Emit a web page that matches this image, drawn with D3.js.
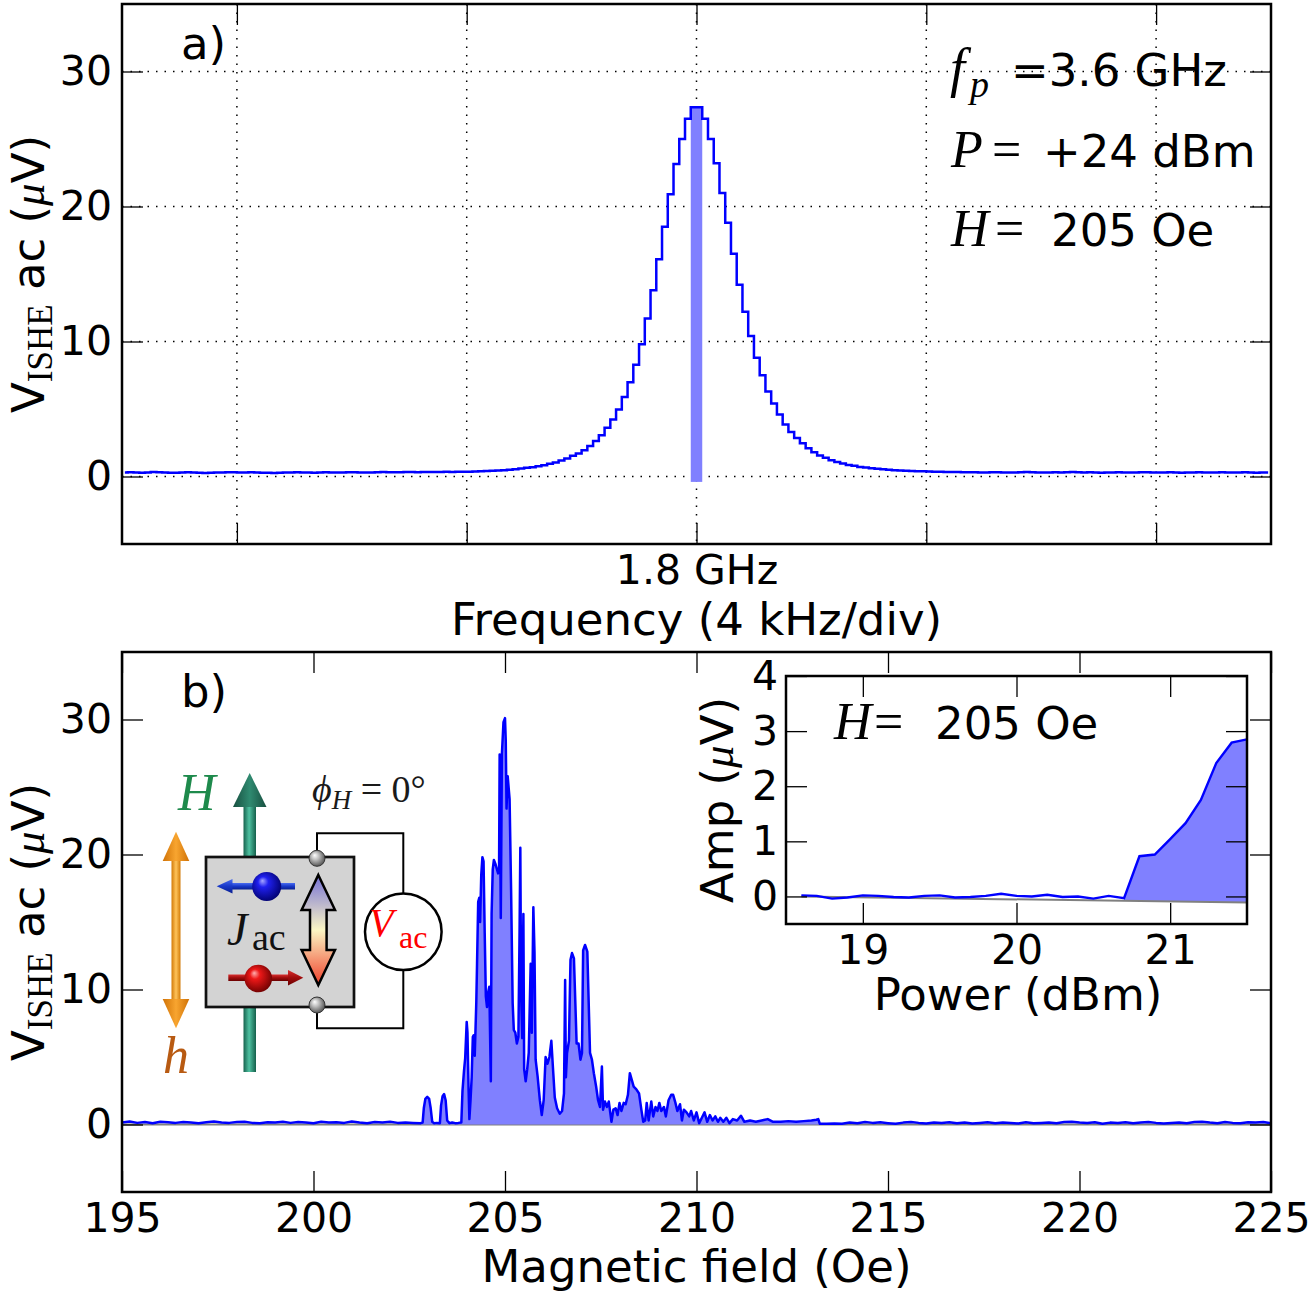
<!DOCTYPE html>
<html>
<head>
<meta charset="utf-8">
<script src="https://cdn.jsdelivr.net/npm/d3@7"></script>
<style>
body { margin: 0; background: #fff; }
svg { display: block; }
</style>
</head>
<body>
<div id="chart"></div>
<script>
// ---- data ----

// panel a: spectrum analyser trace, 200 bins of 0.025 div (4 kHz/div), from -2.5 to +2.5 div
var topVals = [
    0.30, 0.32, 0.30, 0.28, 0.30, 0.33, 0.31, 0.30, 0.28, 0.27,
    0.29, 0.31, 0.30, 0.28, 0.26, 0.27, 0.29, 0.30, 0.32, 0.31,
    0.30, 0.29, 0.31, 0.30, 0.28, 0.27, 0.26, 0.27, 0.29, 0.30,
    0.31, 0.30, 0.29, 0.28, 0.29, 0.31, 0.30, 0.29, 0.30, 0.32,
    0.31, 0.30, 0.29, 0.30, 0.31, 0.33, 0.32, 0.31, 0.32, 0.34,
    0.33, 0.32, 0.33, 0.34, 0.33, 0.34, 0.35, 0.34, 0.35, 0.36,
    0.36, 0.37, 0.39, 0.40, 0.42, 0.44, 0.47, 0.50, 0.54, 0.59,
    0.64, 0.69, 0.76, 0.84, 0.94, 1.03, 1.18, 1.33, 1.53, 1.70,
    1.94, 2.26, 2.63, 3.05, 3.62, 4.23, 4.97, 5.88, 6.99, 8.27,
    9.8, 11.7, 13.8, 16.1, 18.5, 20.9, 23.15, 25.0, 26.5, 27.36,
    27.36, 26.5, 25.0, 23.2, 21.0, 18.8, 16.5, 14.2, 12.2, 10.4,
    8.8, 7.5, 6.3, 5.4, 4.6, 3.85, 3.3, 2.85, 2.46, 2.1,
    1.8, 1.56, 1.38, 1.2, 1.08, 0.96, 0.86, 0.79, 0.71, 0.66,
    0.61, 0.57, 0.53, 0.50, 0.47, 0.45, 0.43, 0.41, 0.39, 0.38,
    0.37, 0.36, 0.35, 0.34, 0.33, 0.33, 0.32, 0.31, 0.31, 0.30,
    0.30, 0.31, 0.32, 0.30, 0.29, 0.30, 0.31, 0.33, 0.32, 0.30,
    0.29, 0.30, 0.31, 0.30, 0.32, 0.34, 0.32, 0.30, 0.31, 0.30,
    0.28, 0.29, 0.30, 0.31, 0.30, 0.29, 0.30, 0.32, 0.31, 0.30,
    0.29, 0.30, 0.31, 0.30, 0.28, 0.29, 0.30, 0.31, 0.30, 0.29,
    0.30, 0.31, 0.30, 0.29, 0.30, 0.31, 0.30, 0.28, 0.29, 0.30
];
var topBandX = [-0.025, 0.025];
var topBandY = [-0.4, 27.4];
var topTicks = [-2, -1, 0, 1, 2];
var topTickLabel = "1.8 GHz";

// panel b: coarse scan outside the active window (0.2 Oe steps)
var bLeftStart = 195.0;
var bLeftVals = [
    0.15, 0.22, 0.12, 0.18, 0.10, 0.20, 0.16, 0.12, 0.18, 0.14,
    0.10, 0.16, 0.22, 0.14, 0.12, 0.18, 0.20, 0.12, 0.10, 0.16,
    0.14, 0.20, 0.12, 0.18, 0.15, 0.10, 0.20, 0.14, 0.16, 0.12,
    0.22, 0.15, 0.10, 0.18, 0.14, 0.20, 0.12, 0.15, 0.12, 0.10
];
var bRightStart = 213.4;
var bRightVals = [
    0.05, 0.08, 0.06, 0.15, 0.10, 0.18, 0.12, 0.16, 0.10, 0.05,
    0.14, 0.18, 0.12, 0.08, 0.15, 0.12, 0.17, 0.10, 0.15, 0.08,
    0.12, 0.16, 0.10, 0.14, 0.12, 0.08, 0.16, 0.10, 0.12, 0.14,
    0.10, 0.18, 0.20, 0.15, 0.12, 0.16, 0.05, 0.14, 0.12, 0.16,
    0.10, 0.14, 0.18, 0.12, 0.08, 0.12, 0.14, 0.10, 0.18, 0.20,
    0.14, 0.10, 0.18, 0.12, 0.10, 0.16, 0.14, 0.18, 0.10
];

// panel b: fine scan of the active window (field in Oe, signal in uV)
var bField = [
    202.80, 202.85, 202.88, 202.92, 202.97, 203.02, 203.06, 203.10, 203.15, 203.22,
    203.30, 203.33, 203.37, 203.41, 203.45, 203.49, 203.55, 203.62, 203.70, 203.78,
    203.86, 203.89, 203.93, 203.96, 204.00, 204.02, 204.05, 204.07, 204.10, 204.13,
    204.16, 204.18, 204.21, 204.25, 204.27, 204.30, 204.33, 204.35, 204.38, 204.41,
    204.44, 204.47, 204.50, 204.53, 204.56, 204.59, 204.63, 204.65, 204.68, 204.71,
    204.75, 204.78, 204.82, 204.845, 204.86, 204.89, 204.92, 204.96, 205.00, 205.02,
    205.04, 205.07, 205.12, 205.16, 205.20, 205.23, 205.27, 205.31, 205.35, 205.38,
    205.40, 205.42, 205.45, 205.48, 205.50, 205.54, 205.58, 205.62, 205.67, 205.70,
    205.74, 205.77, 205.80, 205.85, 205.91, 205.96, 206.01, 206.06, 206.11, 206.16,
    206.21, 206.25, 206.30, 206.36, 206.43, 206.49, 206.54, 206.57, 206.59, 206.62,
    206.67, 206.71, 206.75, 206.80, 206.87, 206.92, 206.97, 207.01, 207.04, 207.09,
    207.15, 207.22, 207.27, 207.32, 207.38, 207.43, 207.48, 207.53, 207.56, 207.61,
    207.66, 207.71, 207.78, 207.83, 207.89, 207.94, 207.99, 208.04, 208.10, 208.15,
    208.21, 208.26, 208.31, 208.36, 208.43, 208.50, 208.56, 208.61, 208.66, 208.70,
    208.75, 208.82, 208.87, 208.93, 208.98, 209.03, 209.08, 209.15, 209.20, 209.27,
    209.34, 209.39, 209.45, 209.50, 209.57, 209.62, 209.67, 209.74, 209.81, 209.86,
    209.93, 210.00, 210.07, 210.14, 210.21, 210.28, 210.35, 210.42, 210.49, 210.56,
    210.62, 210.70, 210.78, 210.86, 210.95, 211.06, 211.16, 211.25, 211.40, 211.55,
    211.70, 211.86, 212.00, 212.20, 212.40, 212.60, 212.80, 213.00, 213.13, 213.18,
    213.22
];
var bSignal = [
    0.10, 0.15, 1.2, 1.9, 2.05, 1.9, 1.2, 0.2, 0.1, 0.12,
    0.1, 1.4, 2.1, 2.25, 1.8, 0.3, 0.1, 0.15, 0.1, 0.12,
    0.15, 2.5, 4.0, 4.9, 7.6, 6.8, 2.5, 0.4, 1.8, 3.5,
    6.5, 6.6, 5.1, 9.0, 11.9, 16.5, 16.8, 15.0, 18.5, 19.8,
    19.5, 14.2, 9.5, 8.7, 9.8, 10.2, 3.2, 15.6, 18.9, 19.6,
    19.3, 19.0, 18.6, 18.8, 27.4, 15.3, 27.5, 29.8, 30.1, 28.4,
    23.4, 25.8, 24.1, 17.2, 9.0, 7.0, 6.8, 6.0, 6.5, 14.2,
    20.5, 9.7, 6.4, 15.6, 4.1, 3.2, 4.1, 5.3, 11.9, 6.8,
    16.1, 12.8, 4.8, 3.6, 1.8, 0.7, 1.8, 5.0, 4.5, 5.0,
    6.2, 4.3, 2.0, 1.2, 0.8, 1.0, 2.3, 10.7, 3.5, 5.3,
    6.2, 12.2, 12.7, 12.3, 6.0, 6.0, 4.8, 5.3, 12.9, 13.3,
    12.8, 5.3, 4.8, 3.8, 2.8, 1.8, 1.3, 4.3, 1.1, 1.7,
    1.3, 1.7, 0.2, 1.1, 1.2, 0.7, 1.6, 1.0, 1.6, 1.5,
    2.2, 3.8, 3.3, 2.8, 2.6, 2.3, 1.1, 0.2, 0.3, 1.6,
    0.3, 1.7, 0.6, 1.3, 1.0, 1.6, 1.0, 1.3, 0.6, 1.8,
    2.2, 2.2, 1.6, 1.0, 1.5, 0.3, 1.1, 0.9, 0.6, 1.0,
    0.3, 0.9, 0.1, 0.5, 0.9, 0.2, 0.7, 0.3, 0.6, 0.2,
    0.5, 0.2, 0.5, 0.1, 0.4, 0.3, 0.65, 0.2, 0.3, 0.2,
    0.3, 0.4, 0.2, 0.2, 0.25, 0.2, 0.25, 0.3, 0.35, 0.4,
    0.05
];
var bTicksX = [195, 200, 205, 210, 215, 220, 225];
var yTicksMain = [0, 10, 20, 30];

// inset: amplitude at H = 205 Oe vs power
var inPower = [18.6, 18.7, 18.8, 18.9, 19.0, 19.1, 19.2, 19.3, 19.4, 19.5,
               19.6, 19.7, 19.8, 19.9, 20.0, 20.1, 20.2, 20.3, 20.4, 20.5,
               20.6, 20.7, 20.8, 20.9, 21.0, 21.1, 21.2, 21.3, 21.4, 21.5];
var inAmp = [0.02, 0.01, -0.04, -0.02, 0.02, 0.01, -0.01, -0.02, 0.01, 0.02,
             -0.02, -0.01, 0.01, 0.05, 0.01, 0.0, 0.03, -0.01, 0.0, -0.04,
             0.01, -0.03, 0.73, 0.76, 1.04, 1.33, 1.75, 2.42, 2.79, 2.85];
var inBaseX = [18.6, 21.5];
var inBaseY = [0.0, -0.11];
var inTicksX = [19, 20, 21];
var inTicksY = [0, 1, 2, 3, 4];

// ---- layout ----
var svgWidth = 1312;
var svgHeight = 1294;
var blue = "#0000ff";
var fillBlue = "#8080ff";
var sans = "DejaVu Sans";
var serif = "Liberation Serif, DejaVu Serif";

var svg = d3.select("#chart").append("svg")
    .attr("width", svgWidth)
    .attr("height", svgHeight);
svg.append("rect").attr("width", svgWidth).attr("height", svgHeight).attr("fill", "#fff");

var defs = svg.append("defs");

var xTop = d3.scaleLinear().domain([-2.5, 2.5]).range([122, 1271]);
var yTop = d3.scaleLinear().domain([-5, 35]).range([544, 4]);
var xBot = d3.scaleLinear().domain([195, 225]).range([122, 1271]);
var yBot = d3.scaleLinear().domain([-5, 35]).range([1192, 652]);
var xIn = d3.scaleLinear().domain([18.5, 21.5]).range([786, 1247]);
var yIn = d3.scaleLinear().domain([-0.5, 4]).range([924, 676]);

function clipFor(id, x, y) {
    defs.append("clipPath").attr("id", id).append("rect")
        .attr("x", x.range()[0]).attr("y", y.range()[1])
        .attr("width", x.range()[1] - x.range()[0])
        .attr("height", y.range()[0] - y.range()[1]);
}
clipFor("clipTop", xTop, yTop);
clipFor("clipBot", xBot, yBot);
clipFor("clipIn", xIn, yIn);

// inward ticks on all four sides plus a frame
function drawAxes(x, y, xTicks, yTicks, xFmt, yFmt, pad) {
    var g = svg.append("g");
    g.append("g").attr("transform", `translate(0,${y.range()[0]})`)
        .call(d3.axisBottom(x).tickValues(xTicks).tickSize(-21).tickPadding(11).tickFormat(xFmt));
    g.append("g").attr("transform", `translate(0,${y.range()[1]})`)
        .call(d3.axisTop(x).tickValues(xTicks).tickSize(-21).tickFormat(""));
    g.append("g").attr("transform", `translate(${x.range()[0]},0)`)
        .call(d3.axisLeft(y).tickValues(yTicks).tickSize(-21).tickPadding(pad).tickFormat(yFmt));
    g.append("g").attr("transform", `translate(${x.range()[1]},0)`)
        .call(d3.axisRight(y).tickValues(yTicks).tickSize(-21).tickFormat(""));
    g.selectAll(".domain").remove();
    g.selectAll(".tick line").attr("stroke", "#000").attr("stroke-width", 1.3);
    g.selectAll(".tick text")
        .attr("font-family", sans)
        .attr("font-size", 41)
        .attr("fill", "#000");
    g.append("rect")
        .attr("x", x.range()[0]).attr("y", y.range()[1])
        .attr("width", x.range()[1] - x.range()[0])
        .attr("height", y.range()[0] - y.range()[1])
        .attr("fill", "none").attr("stroke", "#000").attr("stroke-width", 2.5);
    return g;
}

function yLabel(cx, cy) {
    var t = svg.append("text")
        .attr("transform", `translate(${cx},${cy}) rotate(-90)`)
        .attr("text-anchor", "middle")
        .attr("font-family", sans)
        .attr("font-size", 45);
    t.append("tspan").text("V");
    t.append("tspan").attr("font-family", serif).attr("font-size", 35).attr("dy", 8).text("ISHE");
    t.append("tspan").attr("dy", -8).text(" ac (");
    t.append("tspan").attr("font-family", serif).attr("font-style", "italic").text("μ");
    t.append("tspan").text("V)");
}

// ================= panel a =================
var gridG = svg.append("g")
    .attr("stroke", "#000").attr("stroke-width", 1.5).attr("stroke-dasharray", "1.5,7");
gridG.selectAll("line.gx").data(topTicks).enter().append("line")
    .attr("x1", d => xTop(d)).attr("x2", d => xTop(d))
    .attr("y1", yTop.range()[1]).attr("y2", yTop.range()[0]);
gridG.selectAll("line.gy").data(yTicksMain).enter().append("line")
    .attr("x1", xTop.range()[0]).attr("x2", xTop.range()[1])
    .attr("y1", d => yTop(d)).attr("y2", d => yTop(d));

var topData = topVals.map((v, i) => ({ x: -2.5 + 0.025 * (i + 0.5), y: v }));

var topG = svg.append("g").attr("clip-path", "url(#clipTop)");
topG.append("rect")
    .attr("x", xTop(topBandX[0]))
    .attr("width", xTop(topBandX[1]) - xTop(topBandX[0]))
    .attr("y", yTop(topBandY[1]))
    .attr("height", yTop(topBandY[0]) - yTop(topBandY[1]))
    .attr("fill", fillBlue);
topG.append("path")
    .datum(topData)
    .attr("fill", "none")
    .attr("stroke", blue)
    .attr("stroke-width", 2.5)
    .attr("d", d3.line().x(d => xTop(d.x)).y(d => yTop(d.y)).curve(d3.curveStep));

drawAxes(xTop, yTop, topTicks, yTicksMain, d => d === 0 ? topTickLabel : "", d3.format("d"), 10);

svg.append("text").attr("x", 181).attr("y", 59)
    .attr("font-family", sans).attr("font-size", 45).text("a)");

svg.append("text").attr("x", xTop(0)).attr("y", 635)
    .attr("text-anchor", "middle").attr("font-family", sans).attr("font-size", 45)
    .text("Frequency (4 kHz/div)");
yLabel(44, 274);

// parameter block
var ann = svg.append("g");
ann.append("text").attr("x", 950).attr("y", 86).attr("font-family", serif)
    .attr("font-style", "italic").attr("font-size", 54).text("f");
ann.append("text").attr("x", 970).attr("y", 97).attr("font-family", serif)
    .attr("font-style", "italic").attr("font-size", 38).text("p");
ann.append("text").attr("x", 1011).attr("y", 86).attr("font-family", sans)
    .attr("font-size", 45).text("=3.6 GHz");
ann.append("text").attr("x", 951).attr("y", 167).attr("font-family", serif)
    .attr("font-style", "italic").attr("font-size", 52).text("P");
ann.append("text").attr("x", 992).attr("y", 167).attr("font-family", serif)
    .attr("font-size", 52).text("=");
ann.append("text").attr("x", 1043).attr("y", 167).attr("font-family", sans)
    .attr("font-size", 45).text("+24 dBm");
ann.append("text").attr("x", 951).attr("y", 246).attr("font-family", serif)
    .attr("font-style", "italic").attr("font-size", 52).text("H");
ann.append("text").attr("x", 995).attr("y", 246).attr("font-family", serif)
    .attr("font-size", 52).text("=");
ann.append("text").attr("x", 1051).attr("y", 246).attr("font-family", sans)
    .attr("font-size", 45).text("205 Oe");

// ================= panel b =================
var leftData = bLeftVals.map((v, i) => ({ x: bLeftStart + 0.2 * i, y: v }));
var rightData = bRightVals.map((v, i) => ({ x: bRightStart + 0.2 * i, y: v }));
var fineData = bField.map((f, i) => ({ x: f, y: bSignal[i] }));

var botG = svg.append("g").attr("clip-path", "url(#clipBot)");
botG.append("line")
    .attr("x1", xBot(195)).attr("x2", xBot(225))
    .attr("y1", yBot(0)).attr("y2", yBot(0))
    .attr("stroke", "#808080").attr("stroke-width", 2.2);
botG.append("path")
    .datum(fineData)
    .attr("fill", fillBlue)
    .attr("d", d3.area().x(d => xBot(d.x)).y0(yBot(0)).y1(d => yBot(d.y)));

var bLine = d3.line().x(d => xBot(d.x)).y(d => yBot(d.y));
botG.append("path")
    .datum(leftData.concat(fineData, rightData))
    .attr("fill", "none")
    .attr("stroke", blue)
    .attr("stroke-width", 2.5)
    .attr("stroke-linejoin", "round")
    .attr("d", bLine);

drawAxes(xBot, yBot, bTicksX, yTicksMain, d3.format("d"), d3.format("d"), 10);

svg.append("text").attr("x", 181).attr("y", 707)
    .attr("font-family", sans).attr("font-size", 45).text("b)");
svg.append("text").attr("x", xBot(210)).attr("y", 1282)
    .attr("text-anchor", "middle").attr("font-family", sans).attr("font-size", 45)
    .text("Magnetic field (Oe)");
yLabel(44, 922);

// ================= inset =================
svg.append("rect")
    .attr("x", xIn.range()[0]).attr("y", yIn.range()[1])
    .attr("width", xIn.range()[1] - xIn.range()[0])
    .attr("height", yIn.range()[0] - yIn.range()[1])
    .attr("fill", "#fff");

var baseAt = d3.scaleLinear().domain(inBaseX).range(inBaseY);
var inData = inPower.map((p, i) => ({ x: p, y: inAmp[i] }));

var inG = svg.append("g").attr("clip-path", "url(#clipIn)");
inG.append("path")
    .datum(inData.filter(d => d.x >= 20.7))
    .attr("fill", fillBlue)
    .attr("d", d3.area().x(d => xIn(d.x)).y0(d => yIn(baseAt(d.x))).y1(d => yIn(d.y)));
inG.append("line")
    .attr("x1", xIn(inBaseX[0])).attr("x2", xIn(inBaseX[1]))
    .attr("y1", yIn(inBaseY[0])).attr("y2", yIn(inBaseY[1]))
    .attr("stroke", "#808080").attr("stroke-width", 2);
inG.append("path")
    .datum(inData)
    .attr("fill", "none")
    .attr("stroke", blue)
    .attr("stroke-width", 2.4)
    .attr("d", d3.line().x(d => xIn(d.x)).y(d => yIn(d.y)));

drawAxes(xIn, yIn, inTicksX, inTicksY, d3.format("d"), d3.format("d"), 8);

svg.append("text").attr("x", 1018).attr("y", 1010)
    .attr("text-anchor", "middle").attr("font-family", sans).attr("font-size", 45)
    .text("Power (dBm)");
var ampLab = svg.append("text")
    .attr("transform", "translate(733,800) rotate(-90)")
    .attr("text-anchor", "middle").attr("font-family", sans).attr("font-size", 45);
ampLab.append("tspan").text("Amp (");
ampLab.append("tspan").attr("font-family", serif).attr("font-style", "italic").text("μ");
ampLab.append("tspan").text("V)");

svg.append("text").attr("x", 834).attr("y", 739).attr("font-family", serif)
    .attr("font-style", "italic").attr("font-size", 52).text("H");
svg.append("text").attr("x", 874).attr("y", 739).attr("font-family", serif)
    .attr("font-size", 52).text("=");
svg.append("text").attr("x", 935).attr("y", 739).attr("font-family", sans)
    .attr("font-size", 45).text("205 Oe");

// ================= sketch of the device =================
function linGrad(id, horiz, stops) {
    var lg = defs.append("linearGradient").attr("id", id)
        .attr("x1", 0).attr("y1", 0).attr("x2", horiz ? 1 : 0).attr("y2", horiz ? 0 : 1);
    stops.forEach(s => lg.append("stop").attr("offset", s[0]).attr("stop-color", s[1]));
}
function radGrad(id, stops) {
    var rg = defs.append("radialGradient").attr("id", id)
        .attr("cx", "45%").attr("cy", "45%").attr("r", "60%").attr("fx", "35%").attr("fy", "30%");
    stops.forEach(s => rg.append("stop").attr("offset", s[0]).attr("stop-color", s[1]));
}
linGrad("gShaft", true, [["0%", "#17634e"], ["45%", "#4fc2a2"], ["100%", "#15604b"]]);
linGrad("gHead", true, [["0%", "#184f40"], ["50%", "#2f8a70"], ["100%", "#184f40"]]);
linGrad("oShaft", true, [["0%", "#d27a08"], ["50%", "#ffc35a"], ["100%", "#d27a08"]]);
linGrad("oHead", true, [["0%", "#d07206"], ["50%", "#f8a530"], ["100%", "#d07206"]]);
linGrad("bigGrad", false, [["0%", "#7470d6"], ["50%", "#fbf6c4"], ["100%", "#f0402a"]]);
linGrad("bArrow", false, [["0%", "#4a6cf0"], ["50%", "#1838c8"], ["100%", "#0a1f90"]]);
linGrad("rArrow", false, [["0%", "#d83030"], ["50%", "#a00c0c"], ["100%", "#6a0000"]]);
radGrad("bSphere", [["0%", "#a8a8ff"], ["30%", "#2020f0"], ["100%", "#00006a"]]);
radGrad("rSphere", [["0%", "#ffb0b0"], ["30%", "#ee1818"], ["100%", "#6a0000"]]);
radGrad("wSphere", [["0%", "#ffffff"], ["40%", "#bdbdbd"], ["100%", "#4a4a4a"]]);

var dg = svg.append("g");

// field H (green, behind the sample)
dg.append("rect").attr("x", 243.5).attr("y", 804).attr("width", 12.5).attr("height", 268)
    .attr("fill", "url(#gShaft)");
dg.append("path").attr("d", "M233,807 L266.5,807 L249.7,773 Z").attr("fill", "url(#gHead)");

// rf field h (orange, double headed)
dg.append("rect").attr("x", 171.5).attr("y", 858).attr("width", 9).attr("height", 144)
    .attr("fill", "url(#oShaft)");
dg.append("path").attr("d", "M162.7,861 L189.3,861 L176,831.7 Z").attr("fill", "url(#oHead)");
dg.append("path").attr("d", "M162.7,999 L189.3,999 L176,1028.3 Z").attr("fill", "url(#oHead)");

// wires to the voltmeter
dg.append("path").attr("d", "M317,850 V833.3 H403.3 V893.4")
    .attr("fill", "none").attr("stroke", "#000").attr("stroke-width", 2);
dg.append("path").attr("d", "M403.3,970 V1028.3 H317 V1013")
    .attr("fill", "none").attr("stroke", "#000").attr("stroke-width", 2);

// sample
dg.append("rect").attr("x", 206).attr("y", 857).attr("width", 148).attr("height", 150)
    .attr("fill", "#d3d3d3").attr("stroke", "#111").attr("stroke-width", 2.7);

// spin-up electron going left
dg.append("rect").attr("x", 230).attr("y", 883).attr("width", 65).attr("height", 6.5)
    .attr("fill", "url(#bArrow)");
dg.append("path").attr("d", "M232.5,879 L232.5,893.5 L216.7,886.2 Z").attr("fill", "url(#bArrow)");
dg.append("circle").attr("cx", 266.7).attr("cy", 886.5).attr("r", 14.5).attr("fill", "url(#bSphere)");

// spin-down electron going right
dg.append("rect").attr("x", 228.3).attr("y", 974.5).attr("width", 62).attr("height", 6.5)
    .attr("fill", "url(#rArrow)");
dg.append("path").attr("d", "M288,970 L288,985.5 L303.3,977.7 Z").attr("fill", "url(#rArrow)");
dg.append("circle").attr("cx", 258.3).attr("cy", 978.5).attr("r", 13.8).attr("fill", "url(#rSphere)");

// ac charge current arrow
dg.append("path")
    .attr("d", "M318.3,875 L335,910 L326.6,910 L326.6,950 L335,950 L318.3,985 L301.6,950 L310,950 L310,910 L301.6,910 Z")
    .attr("fill", "url(#bigGrad)").attr("stroke", "#000").attr("stroke-width", 2.5)
    .attr("stroke-linejoin", "miter");

// contacts
dg.append("circle").attr("cx", 317).attr("cy", 858.3).attr("r", 8)
    .attr("fill", "url(#wSphere)").attr("stroke", "#333").attr("stroke-width", 1);
dg.append("circle").attr("cx", 317).attr("cy", 1005).attr("r", 8)
    .attr("fill", "url(#wSphere)").attr("stroke", "#333").attr("stroke-width", 1);

// voltmeter
dg.append("circle").attr("cx", 403.3).attr("cy", 931.7).attr("r", 38.3)
    .attr("fill", "#fff").attr("stroke", "#000").attr("stroke-width", 2.5);
dg.append("text").attr("x", 369).attr("y", 936).attr("font-family", serif)
    .attr("font-style", "italic").attr("font-size", 40).attr("fill", "#ff0000").text("V");
dg.append("text").attr("x", 399).attr("y", 948).attr("font-family", serif)
    .attr("font-size", 32).attr("fill", "#ff0000").text("ac");

// labels of the sketch
dg.append("text").attr("x", 178).attr("y", 810).attr("font-family", serif)
    .attr("font-style", "italic").attr("font-size", 52).attr("fill", "#1e8a4c").text("H");
dg.append("text").attr("x", 163).attr("y", 1073).attr("font-family", serif)
    .attr("font-style", "italic").attr("font-size", 52).attr("fill", "#b85a12").text("h");
dg.append("text").attr("x", 227).attr("y", 945).attr("font-family", serif)
    .attr("font-style", "italic").attr("font-size", 46).attr("fill", "#111").text("J");
dg.append("text").attr("x", 252).attr("y", 950).attr("font-family", serif)
    .attr("font-size", 38).attr("fill", "#111").text("ac");

var phi = dg.append("text").attr("x", 312).attr("y", 802).attr("font-family", serif)
    .attr("font-size", 38).attr("fill", "#1a1a1a");
phi.append("tspan").attr("font-style", "italic").text("ϕ");
phi.append("tspan").attr("font-style", "italic").attr("font-size", 27).attr("dy", 7).text("H");
phi.append("tspan").attr("dy", -7).text(" = 0°");
</script>
</body>
</html>
